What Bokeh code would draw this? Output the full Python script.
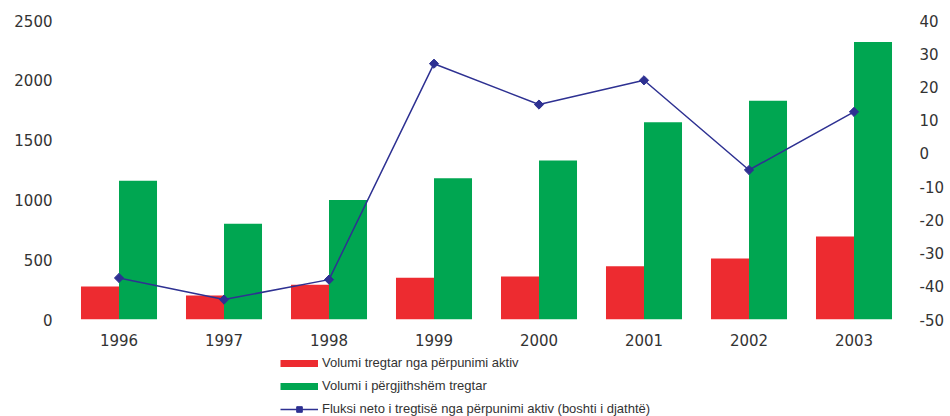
import math
from bokeh.plotting import figure
from bokeh.layouts import column
from bokeh.models import (ColumnDataSource, FactorRange, Range1d, LinearAxis,
                          FixedTicker, Legend, LegendItem)
from bokeh.transform import dodge
from bokeh.embed import file_html
from bokeh.resources import INLINE

years = ["1996", "1997", "1998", "1999", "2000", "2001", "2002", "2003"]
volumi_perpunimi = [275, 200, 290, 350, 360, 445, 510, 695]
volumi_pergjithshem = [1160, 800, 1000, 1180, 1330, 1650, 1830, 2320]
fluksi_neto = [-37.5, -44, -38, 27, 14.7, 22, -5, 12.5]

left_ticks = [0, 500, 1000, 1500, 2000, 2500]
right_ticks = [-50, -40, -30, -20, -10, 0, 10, 20, 30, 40]

labels = ["Volumi tregtar nga përpunimi aktiv",
          "Volumi i përgjithshëm tregtar",
          "Fluksi neto i tregtisë nga përpunimi aktiv (boshti i djathtë)"]

RED = "#ED2B30"
GREEN = "#00A651"
NAVY = "#2E3192"
TXT = "#333333"
FONT = "DejaVu Sans"
LFONT = "Liberation Sans"

src = ColumnDataSource(dict(year=years, red=volumi_perpunimi,
                            green=volumi_pergjithshem, flux=fluksi_neto))

p = figure(width=950, height=352, x_range=FactorRange(*years),
           y_range=Range1d(0, 2500), output_backend="svg",
           toolbar_location=None, min_border_left=66, min_border_right=44,
           min_border_top=20, min_border_bottom=33)
p.extra_y_ranges = {"right": Range1d(-50, 40)}
p.outline_line_color = None
p.xgrid.visible = False
p.ygrid.visible = False

p.vbar(x=dodge("year", -0.181, range=p.x_range), top="red", width=0.362,
       source=src, fill_color=RED, line_color=None)
p.vbar(x=dodge("year", 0.181, range=p.x_range), top="green", width=0.362,
       source=src, fill_color=GREEN, line_color=None)
p.line(x="year", y="flux", source=src, y_range_name="right",
       line_color=NAVY, line_width=1.5)
p.scatter(x="year", y="flux", source=src, y_range_name="right",
          marker="square", angle=math.pi / 4, size=6.5,
          fill_color=NAVY, line_color=NAVY)

right_axis = LinearAxis(y_range_name="right")
p.add_layout(right_axis, "right")

for ax in [p.yaxis[0], right_axis, p.xaxis[0]]:
    ax.axis_line_color = None
    ax.major_tick_line_color = None
    ax.minor_tick_line_color = None
    ax.major_tick_out = 0
    ax.minor_tick_out = 0
    ax.major_label_text_font = FONT
    ax.major_label_text_font_size = "15px"
    ax.major_label_text_color = TXT
p.yaxis[0].ticker = FixedTicker(ticks=left_ticks)
p.yaxis[0].major_label_standoff = 14
right_axis.ticker = FixedTicker(ticks=right_ticks)
right_axis.major_label_overrides = {t: str(t) for t in right_ticks}
right_axis.major_label_standoff = 13
p.xaxis[0].major_label_standoff = 14

# legend panel below the chart; its proxy glyphs use the same data but lie
# outside this panel's visible y range, so only the legend keys show
lg = figure(width=950, height=64, output_backend="svg", toolbar_location=None,
            x_axis_type=None, y_axis_type=None,
            min_border_left=66, min_border_right=44, min_border_top=0,
            min_border_bottom=0,
            x_range=FactorRange(*years), y_range=Range1d(5000, 6000))
lg.outline_line_color = None
lg.xgrid.visible = False
lg.ygrid.visible = False
k_red = lg.line("year", "red", source=src, line_color=RED, line_width=7,
                line_cap="butt")
k_green = lg.line("year", "green", source=src, line_color=GREEN, line_width=7,
                  line_cap="butt")
k_line = lg.line("year", "flux", source=src, line_color=NAVY, line_width=1.5)
k_pts = lg.scatter("year", "flux", source=src, marker="square",
                   angle=math.pi / 4, fill_color=NAVY, line_color=NAVY)

legend = Legend(items=[
    LegendItem(label=labels[0], renderers=[k_red]),
    LegendItem(label=labels[1], renderers=[k_green]),
    LegendItem(label=labels[2], renderers=[k_line, k_pts]),
], location=(214, 0), orientation="vertical")
legend.border_line_color = None
legend.background_fill_alpha = 0
legend.padding = 0
legend.margin = 0
legend.spacing = 8
legend.glyph_width = 38
legend.glyph_height = 14
legend.label_height = 14
legend.label_standoff = 4
legend.label_text_font = LFONT
legend.label_text_font_size = "13px"
legend.label_text_color = TXT
lg.add_layout(legend, "center")

layout = column(p, lg, spacing=0)
open("out.html", "w").write(file_html(layout, INLINE))
